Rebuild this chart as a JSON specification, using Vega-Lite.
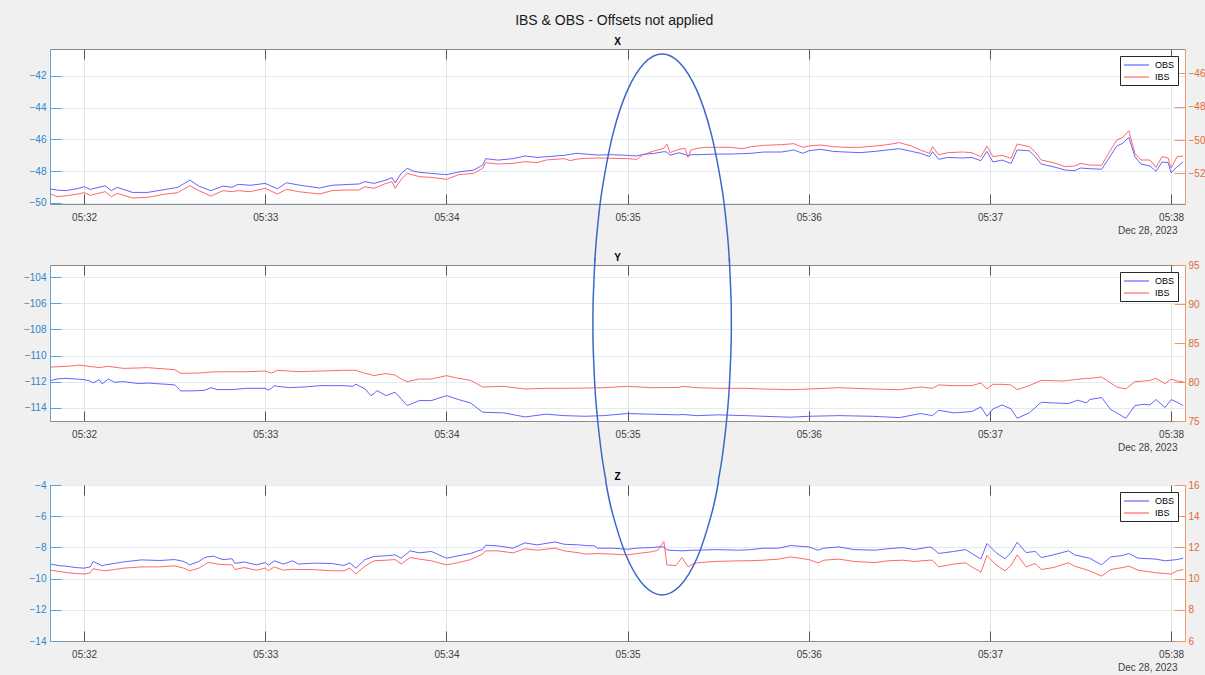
{
  "$schema": "https://vega.github.io/schema/vega-lite/v6.json",
  "background": "#f0f0f0",
  "padding": {"left": 22, "top": 14, "right": 0, "bottom": 5},
  "title": {"text": "IBS & OBS - Offsets not applied", "fontSize": 14, "fontWeight": "normal", "color": "#1a1a1a", "anchor": "middle", "offset": 8},
  "config": {
    "font": "Liberation Sans",
    "view": {"stroke": "#8c8c8c", "fill": "white"},
    "axis": {"labelFontSize": 10, "titleFontSize": 10, "titleFontWeight": "normal"},
    "legend": {"orient": "top-right", "offset": 7, "fillColor": "white", "strokeColor": "#262626", "padding": 3, "symbolType": "M-1,0H4", "symbolSize": 100, "symbolStrokeWidth": 1.2, "labelFontSize": 9, "labelColor": "#000000", "labelOffset": 20, "rowPadding": 1, "cornerRadius": 0},
    "title": {"fontSize": 10, "fontWeight": "bold", "color": "#000000"}
  },
  "spacing": -30,
  "resolve": {"legend": {"color": "independent"}},
  "vconcat": [
    {
      "title": {"text": "X", "offset": 2},
      "width": 1135,
      "height": 155,
      "data": {"format": {"parse": {"t": "date:'%H:%M:%S'"}}, "values": [
        {"t":"05:31:49","OBS":-49.14,"IBS":-53.24},{"t":"05:31:51","OBS":-49.2,"IBS":-53.4},{"t":"05:31:54","OBS":-49.24,"IBS":-53.35},{"t":"05:31:58","OBS":-49.1,"IBS":-53.24},
        {"t":"05:32:00","OBS":-48.99,"IBS":-53.16},{"t":"05:32:02","OBS":-49.16,"IBS":-53.32},{"t":"05:32:07","OBS":-48.93,"IBS":-53.1},{"t":"05:32:09","OBS":-49.24,"IBS":-53.4},
        {"t":"05:32:11","OBS":-49.03,"IBS":-53.2},{"t":"05:32:16","OBS":-49.35,"IBS":-53.48},{"t":"05:32:21","OBS":-49.35,"IBS":-53.44},{"t":"05:32:27","OBS":-49.16,"IBS":-53.24},
        {"t":"05:32:31","OBS":-49.03,"IBS":-53.16},{"t":"05:32:33","OBS":-48.8,"IBS":-52.95},{"t":"05:32:35","OBS":-48.57,"IBS":-52.74},{"t":"05:32:38","OBS":-48.95,"IBS":-53.04},
        {"t":"05:32:42","OBS":-49.24,"IBS":-53.36},{"t":"05:32:46","OBS":-48.95,"IBS":-53.04},{"t":"05:32:49","OBS":-49.03,"IBS":-53.1},{"t":"05:32:51","OBS":-48.84,"IBS":-53.04},
        {"t":"05:32:55","OBS":-48.9,"IBS":-53.1},{"t":"05:33:00","OBS":-48.78,"IBS":-52.9},{"t":"05:33:04","OBS":-49.12,"IBS":-53.24},{"t":"05:33:07","OBS":-48.74,"IBS":-52.96},
        {"t":"05:33:11","OBS":-48.88,"IBS":-53.1},{"t":"05:33:18","OBS":-49.07,"IBS":-53.24},{"t":"05:33:22","OBS":-48.9,"IBS":-53.04},{"t":"05:33:26","OBS":-48.86,"IBS":-53.0},
        {"t":"05:33:31","OBS":-48.82,"IBS":-53.0},{"t":"05:33:33","OBS":-48.67,"IBS":-52.8},{"t":"05:33:36","OBS":-48.78,"IBS":-52.9},{"t":"05:33:40","OBS":-48.57,"IBS":-52.6},
        {"t":"05:33:42","OBS":-48.42,"IBS":-52.5},{"t":"05:33:43","OBS":-48.74,"IBS":-52.9},{"t":"05:33:45","OBS":-48.15,"IBS":-52.36},{"t":"05:33:47","OBS":-47.83,"IBS":-52.0},
        {"t":"05:33:49","OBS":-48.0,"IBS":-52.1},{"t":"05:33:51","OBS":-48.08,"IBS":-52.2},{"t":"05:33:55","OBS":-48.15,"IBS":-52.24},{"t":"05:34:00","OBS":-48.23,"IBS":-52.36},
        {"t":"05:34:04","OBS":-48.06,"IBS":-52.08},{"t":"05:34:09","OBS":-47.94,"IBS":-52.0},{"t":"05:34:12","OBS":-47.62,"IBS":-51.7},{"t":"05:34:13","OBS":-47.22,"IBS":-51.36},
        {"t":"05:34:17","OBS":-47.31,"IBS":-51.44},{"t":"05:34:22","OBS":-47.22,"IBS":-51.4},{"t":"05:34:26","OBS":-47.05,"IBS":-51.3},{"t":"05:34:30","OBS":-47.14,"IBS":-51.36},
        {"t":"05:34:33","OBS":-47.1,"IBS":-51.2},{"t":"05:34:36","OBS":-47.05,"IBS":-51.16},{"t":"05:34:39","OBS":-47.01,"IBS":-51.12},{"t":"05:34:41","OBS":-46.95,"IBS":-51.24},
        {"t":"05:34:43","OBS":-46.88,"IBS":-51.15},{"t":"05:34:46","OBS":-46.93,"IBS":-51.1},{"t":"05:34:50","OBS":-46.99,"IBS":-51.08},{"t":"05:34:55","OBS":-46.97,"IBS":-51.1},
        {"t":"05:35:00","OBS":-47.01,"IBS":-51.12},{"t":"05:35:03","OBS":-47.05,"IBS":-51.16},{"t":"05:35:05","OBS":-46.95,"IBS":-50.9},{"t":"05:35:09","OBS":-46.88,"IBS":-50.64},
        {"t":"05:35:12","OBS":-46.78,"IBS":-50.5},{"t":"05:35:13","OBS":-46.8,"IBS":-50.24},{"t":"05:35:14","OBS":-47.0,"IBS":-50.76},{"t":"05:35:17","OBS":-46.85,"IBS":-50.56},
        {"t":"05:35:19","OBS":-46.95,"IBS":-50.5},{"t":"05:35:20","OBS":-47.05,"IBS":-51.04},{"t":"05:35:21","OBS":-46.97,"IBS":-50.6},{"t":"05:35:23","OBS":-46.97,"IBS":-50.5},
        {"t":"05:35:26","OBS":-46.95,"IBS":-50.44},{"t":"05:35:29","OBS":-46.93,"IBS":-50.44},{"t":"05:35:34","OBS":-46.93,"IBS":-50.44},{"t":"05:35:38","OBS":-46.9,"IBS":-50.52},
        {"t":"05:35:41","OBS":-46.88,"IBS":-50.4},{"t":"05:35:45","OBS":-46.8,"IBS":-50.32},{"t":"05:35:51","OBS":-46.8,"IBS":-50.28},{"t":"05:35:55","OBS":-46.67,"IBS":-50.22},
        {"t":"05:35:58","OBS":-46.88,"IBS":-50.44},{"t":"05:36:00","OBS":-46.72,"IBS":-50.36},{"t":"05:36:04","OBS":-46.63,"IBS":-50.3},{"t":"05:36:08","OBS":-46.76,"IBS":-50.4},
        {"t":"05:36:12","OBS":-46.8,"IBS":-50.44},{"t":"05:36:17","OBS":-46.84,"IBS":-50.44},{"t":"05:36:22","OBS":-46.76,"IBS":-50.36},{"t":"05:36:26","OBS":-46.67,"IBS":-50.28},
        {"t":"05:36:30","OBS":-46.59,"IBS":-50.16},{"t":"05:36:34","OBS":-46.76,"IBS":-50.36},{"t":"05:36:37","OBS":-46.88,"IBS":-50.6},{"t":"05:36:40","OBS":-47.09,"IBS":-50.8},
        {"t":"05:36:41","OBS":-46.78,"IBS":-50.4},{"t":"05:36:43","OBS":-47.26,"IBS":-50.88},{"t":"05:36:46","OBS":-47.14,"IBS":-50.76},{"t":"05:36:51","OBS":-47.18,"IBS":-50.72},
        {"t":"05:36:54","OBS":-47.14,"IBS":-50.76},{"t":"05:36:57","OBS":-47.35,"IBS":-51.0},{"t":"05:36:59","OBS":-46.76,"IBS":-50.36},{"t":"05:37:01","OBS":-47.43,"IBS":-51.0},
        {"t":"05:37:04","OBS":-47.31,"IBS":-50.92},{"t":"05:37:07","OBS":-47.52,"IBS":-51.1},{"t":"05:37:09","OBS":-46.67,"IBS":-50.24},{"t":"05:37:13","OBS":-46.72,"IBS":-50.4},
        {"t":"05:37:15","OBS":-47.09,"IBS":-50.72},{"t":"05:37:17","OBS":-47.56,"IBS":-51.2},{"t":"05:37:21","OBS":-47.73,"IBS":-51.36},{"t":"05:37:25","OBS":-47.94,"IBS":-51.6},
        {"t":"05:37:28","OBS":-47.98,"IBS":-51.56},{"t":"05:37:30","OBS":-47.81,"IBS":-51.4},{"t":"05:37:33","OBS":-47.85,"IBS":-51.5},{"t":"05:37:37","OBS":-47.89,"IBS":-51.52},
        {"t":"05:37:39","OBS":-47.31,"IBS":-50.88},{"t":"05:37:42","OBS":-46.42,"IBS":-50.0},{"t":"05:37:44","OBS":-46.25,"IBS":-49.84},{"t":"05:37:46","OBS":-45.87,"IBS":-49.44},
        {"t":"05:37:48","OBS":-47.09,"IBS":-50.8},{"t":"05:37:50","OBS":-47.56,"IBS":-51.2},{"t":"05:37:53","OBS":-47.68,"IBS":-51.2},{"t":"05:37:55","OBS":-48.02,"IBS":-51.64},
        {"t":"05:37:57","OBS":-47.43,"IBS":-51.0},{"t":"05:37:59","OBS":-47.47,"IBS":-51.08},{"t":"05:38:00","OBS":-48.11,"IBS":-51.68},{"t":"05:38:02","OBS":-47.73,"IBS":-51.0},
        {"t":"05:38:04","OBS":-47.41,"IBS":-50.96}
      ]},
      "layer": [
        {"mark": {"type": "line", "strokeWidth": 1, "opacity": 0.85},
         "encoding": {
           "x": {"field": "t", "type": "temporal", "scale": {"domain": [{"year":1900,"month":1,"date":1,"hours":5,"minutes":31,"seconds":48,"milliseconds":700},{"year":1900,"month":1,"date":1,"hours":5,"minutes":38,"seconds":4,"milliseconds":600}]},
                 "axis": {"format": "%H:%M", "values": [{"year":1900,"month":1,"date":1,"hours":5,"minutes":32},{"year":1900,"month":1,"date":1,"hours":5,"minutes":33},{"year":1900,"month":1,"date":1,"hours":5,"minutes":34},{"year":1900,"month":1,"date":1,"hours":5,"minutes":35},{"year":1900,"month":1,"date":1,"hours":5,"minutes":36},{"year":1900,"month":1,"date":1,"hours":5,"minutes":37},{"year":1900,"month":1,"date":1,"hours":5,"minutes":38}], "grid": true, "gridColor": "#e4e4e4", "tickSize": -10, "tickColor": "#555555", "labelPadding": 18, "labelColor": "#404040", "domainColor": "#8c8c8c", "title": "Dec 28, 2023", "titleColor": "#404040", "titleX": 1127, "titleAlign": "right", "titlePadding": 3}},
           "y": {"field": "OBS", "type": "quantitative", "scale": {"domain": [-50.08, -40.3], "nice": false, "zero": false},
                 "axis": {"values": [-50, -48, -46, -44, -42], "grid": true, "gridColor": "#e2ebf5", "tickSize": -11, "tickColor": "#5aa3db", "domainColor": "#5aa3db", "labelColor": "#2f85c8", "labelPadding": 15, "title": null}},
           "color": {"datum": "OBS", "scale": {"domain": ["OBS", "IBS"], "range": ["#4848ff", "#ff4d4d"]}, "legend": {"title": null}}
         }},
        {"mark": {"type": "line", "strokeWidth": 1, "opacity": 0.85},
         "encoding": {
           "x": {"field": "t", "type": "temporal", "axis": {"orient": "top", "labels": false, "grid": false, "domain": false, "tickSize": -10, "tickColor": "#555555", "title": null, "values": [{"year":1900,"month":1,"date":1,"hours":5,"minutes":32},{"year":1900,"month":1,"date":1,"hours":5,"minutes":33},{"year":1900,"month":1,"date":1,"hours":5,"minutes":34},{"year":1900,"month":1,"date":1,"hours":5,"minutes":35},{"year":1900,"month":1,"date":1,"hours":5,"minutes":36},{"year":1900,"month":1,"date":1,"hours":5,"minutes":37},{"year":1900,"month":1,"date":1,"hours":5,"minutes":38}]}},
           "y": {"field": "IBS", "type": "quantitative", "scale": {"domain": [-53.84, -44.54], "nice": false, "zero": false},
                 "axis": {"orient": "right", "values": [-52, -50, -48, -46], "grid": false, "tickSize": -11, "tickColor": "#ea9a70", "domainColor": "#ea9a70", "labelColor": "#e06a35", "labelPadding": 14, "title": null}},
           "color": {"datum": "IBS"}
         }},
        {"data": {"format": {"parse": {"t": "date:'%H:%M:%S.%L'"}}, "values": [
          {"k":0,"t":"05:35:33.710","v":-53.677},{"k":1,"t":"05:35:32.970","v":-51.825},{"k":2,"t":"05:35:31.280","v":-49.134},{"k":3,"t":"05:35:27.630","v":-45.605},
          {"k":4,"t":"05:35:22.890","v":-42.898},{"k":5,"t":"05:35:17.360","v":-41.196},{"k":6,"t":"05:35:11.430","v":-40.615},{"k":7,"t":"05:35:05.500","v":-41.196},
          {"k":8,"t":"05:34:59.970","v":-42.898},{"k":9,"t":"05:34:55.220","v":-45.605},{"k":10,"t":"05:34:51.580","v":-49.134},{"k":11,"t":"05:34:49.890","v":-51.825},
          {"k":12,"t":"05:34:49.140","v":-53.677}
         ]},
         "mark": {"type": "line", "color": "#3a68c8", "strokeWidth": 1.5, "interpolate": "cardinal", "clip": false},
         "encoding": {
           "x": {"field": "t", "type": "temporal", "axis": null},
           "y": {"field": "v", "type": "quantitative", "scale": {"domain": [-50.08, -40.3], "nice": false, "zero": false}, "axis": null},
           "order": {"field": "k", "type": "quantitative"}
         }}
      ],
      "resolve": {"scale": {"y": "independent"}, "axis": {"x": "independent"}}
    },
    {
      "title": {"text": "Y", "offset": -8},
      "width": 1135,
      "height": 156,
      "data": {"format": {"parse": {"t": "date:'%H:%M:%S'"}}, "values": [
        {"t":"05:31:49","OBS":-111.91,"IBS":81.92},{"t":"05:31:51","OBS":-111.79,"IBS":81.95},{"t":"05:31:54","OBS":-111.74,"IBS":82.01},{"t":"05:31:57","OBS":-111.79,"IBS":82.1},
        {"t":"05:31:58","OBS":-111.8,"IBS":82.18},{"t":"05:32:00","OBS":-111.84,"IBS":82.1},{"t":"05:32:02","OBS":-111.95,"IBS":81.97},{"t":"05:32:03","OBS":-112.09,"IBS":81.95},
        {"t":"05:32:05","OBS":-111.84,"IBS":81.84},{"t":"05:32:06","OBS":-112.17,"IBS":81.9},{"t":"05:32:08","OBS":-111.79,"IBS":82.01},{"t":"05:32:10","OBS":-112.04,"IBS":81.9},
        {"t":"05:32:13","OBS":-111.99,"IBS":81.75},{"t":"05:32:18","OBS":-112.14,"IBS":81.8},{"t":"05:32:21","OBS":-112.1,"IBS":81.84},{"t":"05:32:27","OBS":-112.19,"IBS":81.67},
        {"t":"05:32:30","OBS":-112.24,"IBS":81.58},{"t":"05:32:32","OBS":-112.7,"IBS":81.11},{"t":"05:32:35","OBS":-112.7,"IBS":81.13},{"t":"05:32:38","OBS":-112.68,"IBS":81.15},
        {"t":"05:32:40","OBS":-112.65,"IBS":81.2},{"t":"05:32:42","OBS":-112.45,"IBS":81.28},{"t":"05:32:44","OBS":-112.6,"IBS":81.3},{"t":"05:32:49","OBS":-112.6,"IBS":81.32},
        {"t":"05:32:54","OBS":-112.5,"IBS":81.32},{"t":"05:33:00","OBS":-112.5,"IBS":81.41},{"t":"05:33:01","OBS":-112.65,"IBS":81.25},{"t":"05:33:02","OBS":-112.5,"IBS":81.15},
        {"t":"05:33:03","OBS":-112.3,"IBS":81.3},{"t":"05:33:04","OBS":-112.35,"IBS":81.5},{"t":"05:33:08","OBS":-112.45,"IBS":81.4},{"t":"05:33:11","OBS":-112.42,"IBS":81.32},
        {"t":"05:33:13","OBS":-112.4,"IBS":81.35},{"t":"05:33:18","OBS":-112.3,"IBS":81.41},{"t":"05:33:22","OBS":-112.3,"IBS":81.45},{"t":"05:33:26","OBS":-112.3,"IBS":81.5},
        {"t":"05:33:29","OBS":-112.35,"IBS":81.5},{"t":"05:33:30","OBS":-112.19,"IBS":81.5},{"t":"05:33:33","OBS":-112.55,"IBS":81.11},{"t":"05:33:35","OBS":-113.06,"IBS":80.95},
        {"t":"05:33:36","OBS":-112.9,"IBS":80.81},{"t":"05:33:37","OBS":-112.68,"IBS":80.9},{"t":"05:33:40","OBS":-113.06,"IBS":81.07},{"t":"05:33:43","OBS":-112.8,"IBS":80.9},
        {"t":"05:33:45","OBS":-113.31,"IBS":80.38},{"t":"05:33:47","OBS":-113.82,"IBS":80.04},{"t":"05:33:51","OBS":-113.44,"IBS":80.38},{"t":"05:33:55","OBS":-113.44,"IBS":80.38},
        {"t":"05:34:00","OBS":-113.06,"IBS":80.81},{"t":"05:34:04","OBS":-113.36,"IBS":80.47},{"t":"05:34:08","OBS":-113.62,"IBS":80.21},{"t":"05:34:12","OBS":-114.33,"IBS":79.36},
        {"t":"05:34:19","OBS":-114.38,"IBS":79.44},{"t":"05:34:26","OBS":-114.69,"IBS":79.1},{"t":"05:34:33","OBS":-114.48,"IBS":79.19},{"t":"05:34:39","OBS":-114.59,"IBS":79.19},
        {"t":"05:34:46","OBS":-114.64,"IBS":79.22},{"t":"05:34:52","OBS":-114.59,"IBS":79.27},{"t":"05:35:00","OBS":-114.43,"IBS":79.44},{"t":"05:35:08","OBS":-114.48,"IBS":79.27},
        {"t":"05:35:17","OBS":-114.53,"IBS":79.3},{"t":"05:35:18","OBS":-114.5,"IBS":79.44},{"t":"05:35:23","OBS":-114.59,"IBS":79.27},{"t":"05:35:30","OBS":-114.53,"IBS":79.19},
        {"t":"05:35:39","OBS":-114.59,"IBS":79.19},{"t":"05:35:45","OBS":-114.64,"IBS":79.1},{"t":"05:35:54","OBS":-114.71,"IBS":79.02},{"t":"05:36:00","OBS":-114.64,"IBS":79.1},
        {"t":"05:36:10","OBS":-114.59,"IBS":79.27},{"t":"05:36:21","OBS":-114.64,"IBS":79.1},{"t":"05:36:30","OBS":-114.74,"IBS":79.02},{"t":"05:36:37","OBS":-114.43,"IBS":79.36},
        {"t":"05:36:41","OBS":-114.59,"IBS":79.19},{"t":"05:36:43","OBS":-114.18,"IBS":79.62},{"t":"05:36:48","OBS":-114.38,"IBS":79.53},{"t":"05:36:54","OBS":-114.28,"IBS":79.53},
        {"t":"05:36:57","OBS":-113.92,"IBS":79.87},{"t":"05:36:59","OBS":-114.64,"IBS":79.1},{"t":"05:37:01","OBS":-114.08,"IBS":79.7},{"t":"05:37:04","OBS":-113.77,"IBS":79.7},
        {"t":"05:37:07","OBS":-114.08,"IBS":79.62},{"t":"05:37:09","OBS":-114.79,"IBS":79.02},{"t":"05:37:13","OBS":-114.38,"IBS":79.53},{"t":"05:37:17","OBS":-113.57,"IBS":80.21},
        {"t":"05:37:21","OBS":-113.62,"IBS":80.17},{"t":"05:37:24","OBS":-113.65,"IBS":80.13},{"t":"05:37:26","OBS":-113.67,"IBS":80.2},{"t":"05:37:28","OBS":-113.5,"IBS":80.3},
        {"t":"05:37:29","OBS":-113.41,"IBS":80.35},{"t":"05:37:32","OBS":-113.62,"IBS":80.47},{"t":"05:37:33","OBS":-113.36,"IBS":80.47},{"t":"05:37:37","OBS":-113.21,"IBS":80.64},
        {"t":"05:37:40","OBS":-114.13,"IBS":79.87},{"t":"05:37:42","OBS":-114.38,"IBS":79.36},{"t":"05:37:45","OBS":-114.79,"IBS":79.1},{"t":"05:37:48","OBS":-113.82,"IBS":80.04},
        {"t":"05:37:51","OBS":-113.72,"IBS":80.13},{"t":"05:37:53","OBS":-113.77,"IBS":80.2},{"t":"05:37:55","OBS":-113.36,"IBS":80.47},{"t":"05:37:58","OBS":-113.97,"IBS":79.79},
        {"t":"05:38:00","OBS":-113.36,"IBS":80.38},{"t":"05:38:02","OBS":-113.57,"IBS":80.13},{"t":"05:38:04","OBS":-113.82,"IBS":80.04}
      ]},
      "layer": [
        {"mark": {"type": "line", "strokeWidth": 1, "opacity": 0.85},
         "encoding": {
           "x": {"field": "t", "type": "temporal", "scale": {"domain": [{"year":1900,"month":1,"date":1,"hours":5,"minutes":31,"seconds":48,"milliseconds":700},{"year":1900,"month":1,"date":1,"hours":5,"minutes":38,"seconds":4,"milliseconds":600}]},
                 "axis": {"format": "%H:%M", "values": [{"year":1900,"month":1,"date":1,"hours":5,"minutes":32},{"year":1900,"month":1,"date":1,"hours":5,"minutes":33},{"year":1900,"month":1,"date":1,"hours":5,"minutes":34},{"year":1900,"month":1,"date":1,"hours":5,"minutes":35},{"year":1900,"month":1,"date":1,"hours":5,"minutes":36},{"year":1900,"month":1,"date":1,"hours":5,"minutes":37},{"year":1900,"month":1,"date":1,"hours":5,"minutes":38}], "grid": true, "gridColor": "#e4e4e4", "tickSize": -10, "tickColor": "#555555", "labelPadding": 18, "labelColor": "#404040", "domainColor": "#8c8c8c", "title": "Dec 28, 2023", "titleColor": "#404040", "titleX": 1127, "titleAlign": "right", "titlePadding": 3}},
           "y": {"field": "OBS", "type": "quantitative", "scale": {"domain": [-115, -103.08], "nice": false, "zero": false},
                 "axis": {"values": [-114, -112, -110, -108, -106, -104], "grid": true, "gridColor": "#e2ebf5", "tickSize": -11, "tickColor": "#5aa3db", "domainColor": "#5aa3db", "labelColor": "#2f85c8", "labelPadding": 15, "title": null}},
           "color": {"datum": "OBS", "scale": {"domain": ["OBS", "IBS"], "range": ["#4848ff", "#ff4d4d"]}, "legend": {"title": null}}
         }},
        {"mark": {"type": "line", "strokeWidth": 1, "opacity": 0.85},
         "encoding": {
           "x": {"field": "t", "type": "temporal", "axis": {"orient": "top", "labels": false, "grid": false, "domain": false, "tickSize": -10, "tickColor": "#555555", "title": null, "values": [{"year":1900,"month":1,"date":1,"hours":5,"minutes":32},{"year":1900,"month":1,"date":1,"hours":5,"minutes":33},{"year":1900,"month":1,"date":1,"hours":5,"minutes":34},{"year":1900,"month":1,"date":1,"hours":5,"minutes":35},{"year":1900,"month":1,"date":1,"hours":5,"minutes":36},{"year":1900,"month":1,"date":1,"hours":5,"minutes":37},{"year":1900,"month":1,"date":1,"hours":5,"minutes":38}]}},
           "y": {"field": "IBS", "type": "quantitative", "scale": {"domain": [75, 95], "nice": false, "zero": false},
                 "axis": {"orient": "right", "values": [75, 80, 85, 90, 95], "grid": false, "tickSize": -11, "tickColor": "#ea9a70", "domainColor": "#ea9a70", "labelColor": "#e06a35", "labelPadding": 14, "title": null}},
           "color": {"datum": "IBS"}
         }},
        {"data": {"format": {"parse": {"t": "date:'%H:%M:%S.%L'"}}, "values": [
          {"s":"L","k":0,"t":"05:34:49.190","v":-102.545},{"s":"L","k":1,"t":"05:34:48.600","v":-105.678},{"s":"L","k":2,"t":"05:34:48.510","v":-107.512},{"s":"L","k":3,"t":"05:34:48.610","v":-109.498},
          {"s":"L","k":4,"t":"05:34:49.440","v":-113.319},{"s":"L","k":5,"t":"05:34:51.160","v":-117.139},{"s":"L","k":6,"t":"05:34:52.840","v":-119.585},
          {"s":"R","k":0,"t":"05:35:33.670","v":-102.545},{"s":"R","k":1,"t":"05:35:34.260","v":-105.678},{"s":"R","k":2,"t":"05:35:34.350","v":-107.512},{"s":"R","k":3,"t":"05:35:34.240","v":-109.498},
          {"s":"R","k":4,"t":"05:35:33.420","v":-113.319},{"s":"R","k":5,"t":"05:35:31.700","v":-117.139},{"s":"R","k":6,"t":"05:35:30.010","v":-119.585}
         ]},
         "mark": {"type": "line", "color": "#3a68c8", "strokeWidth": 1.5, "interpolate": "cardinal", "clip": false},
         "encoding": {
           "x": {"field": "t", "type": "temporal", "axis": null},
           "y": {"field": "v", "type": "quantitative", "scale": {"domain": [-115, -103.08], "nice": false, "zero": false}, "axis": null},
           "detail": {"field": "s", "type": "nominal"},
           "order": {"field": "k", "type": "quantitative"}
         }}
      ],
      "resolve": {"scale": {"y": "independent"}, "axis": {"x": "independent"}}
    },
    {
      "title": {"text": "Z", "offset": -4},
      "width": 1135,
      "height": 156,
      "data": {"format": {"parse": {"t": "date:'%H:%M:%S'"}}, "values": [
        {"t":"05:31:49","OBS":-9.07,"IBS":10.54},{"t":"05:31:52","OBS":-9.18,"IBS":10.45},{"t":"05:31:54","OBS":-9.2,"IBS":10.39},{"t":"05:31:57","OBS":-9.29,"IBS":10.33},
        {"t":"05:32:00","OBS":-9.33,"IBS":10.29},{"t":"05:32:02","OBS":-9.25,"IBS":10.37},{"t":"05:32:03","OBS":-8.9,"IBS":10.63},{"t":"05:32:06","OBS":-9.18,"IBS":10.52},
        {"t":"05:32:07","OBS":-9.12,"IBS":10.5},{"t":"05:32:10","OBS":-9.03,"IBS":10.58},{"t":"05:32:13","OBS":-8.93,"IBS":10.67},{"t":"05:32:19","OBS":-8.8,"IBS":10.75},
        {"t":"05:32:25","OBS":-8.84,"IBS":10.75},{"t":"05:32:30","OBS":-8.78,"IBS":10.82},{"t":"05:32:33","OBS":-8.9,"IBS":10.67},{"t":"05:32:35","OBS":-9.12,"IBS":10.5},
        {"t":"05:32:38","OBS":-8.9,"IBS":10.67},{"t":"05:32:40","OBS":-8.65,"IBS":10.9},{"t":"05:32:41","OBS":-8.6,"IBS":11.03},{"t":"05:32:43","OBS":-8.56,"IBS":10.98},
        {"t":"05:32:44","OBS":-8.65,"IBS":10.93},{"t":"05:32:46","OBS":-8.78,"IBS":10.9},{"t":"05:32:49","OBS":-8.73,"IBS":10.88},{"t":"05:32:50","OBS":-9.03,"IBS":10.58},
        {"t":"05:32:53","OBS":-8.93,"IBS":10.71},{"t":"05:32:57","OBS":-9.12,"IBS":10.54},{"t":"05:33:00","OBS":-8.97,"IBS":10.67},{"t":"05:33:01","OBS":-9.14,"IBS":10.5},
        {"t":"05:33:03","OBS":-8.86,"IBS":10.75},{"t":"05:33:06","OBS":-9.07,"IBS":10.54},{"t":"05:33:09","OBS":-8.86,"IBS":10.6},{"t":"05:33:11","OBS":-9.07,"IBS":10.58},
        {"t":"05:33:16","OBS":-9.01,"IBS":10.58},{"t":"05:33:22","OBS":-9.03,"IBS":10.5},{"t":"05:33:26","OBS":-9.16,"IBS":10.5},{"t":"05:33:28","OBS":-8.99,"IBS":10.67},
        {"t":"05:33:30","OBS":-9.33,"IBS":10.29},{"t":"05:33:33","OBS":-8.78,"IBS":10.8},{"t":"05:33:36","OBS":-8.58,"IBS":11.14},{"t":"05:33:40","OBS":-8.54,"IBS":11.18},
        {"t":"05:33:43","OBS":-8.48,"IBS":11.22},{"t":"05:33:45","OBS":-8.69,"IBS":10.93},{"t":"05:33:48","OBS":-8.22,"IBS":11.35},{"t":"05:33:51","OBS":-8.35,"IBS":11.25},
        {"t":"05:33:55","OBS":-8.26,"IBS":11.14},{"t":"05:34:00","OBS":-8.69,"IBS":10.88},{"t":"05:34:04","OBS":-8.54,"IBS":11.03},{"t":"05:34:08","OBS":-8.39,"IBS":11.22},
        {"t":"05:34:12","OBS":-8.12,"IBS":11.57},{"t":"05:34:13","OBS":-7.86,"IBS":11.78},{"t":"05:34:17","OBS":-7.9,"IBS":11.78},{"t":"05:34:22","OBS":-8.05,"IBS":11.65},
        {"t":"05:34:26","OBS":-7.71,"IBS":11.91},{"t":"05:34:30","OBS":-7.84,"IBS":11.82},{"t":"05:34:36","OBS":-7.65,"IBS":11.95},{"t":"05:34:39","OBS":-7.8,"IBS":11.78},
        {"t":"05:34:44","OBS":-7.84,"IBS":11.65},{"t":"05:34:46","OBS":-7.88,"IBS":11.57},{"t":"05:34:49","OBS":-7.9,"IBS":11.6},{"t":"05:34:50","OBS":-8.05,"IBS":11.61},
        {"t":"05:34:55","OBS":-8.05,"IBS":11.57},{"t":"05:35:00","OBS":-8.12,"IBS":11.52},{"t":"05:35:03","OBS":-8.05,"IBS":11.6},{"t":"05:35:05","OBS":-8.03,"IBS":11.65},
        {"t":"05:35:08","OBS":-8.01,"IBS":11.72},{"t":"05:35:10","OBS":-7.97,"IBS":11.82},{"t":"05:35:12","OBS":-7.97,"IBS":12.38},{"t":"05:35:13","OBS":-8.15,"IBS":10.88},
        {"t":"05:35:14","OBS":-8.18,"IBS":10.86},{"t":"05:35:16","OBS":-8.2,"IBS":10.84},{"t":"05:35:18","OBS":-8.22,"IBS":11.35},{"t":"05:35:20","OBS":-8.2,"IBS":10.75},
        {"t":"05:35:21","OBS":-8.18,"IBS":10.88},{"t":"05:35:23","OBS":-8.18,"IBS":11.01},{"t":"05:35:29","OBS":-8.14,"IBS":11.1},{"t":"05:35:37","OBS":-8.18,"IBS":11.14},
        {"t":"05:35:41","OBS":-8.14,"IBS":11.15},{"t":"05:35:45","OBS":-8.05,"IBS":11.18},{"t":"05:35:50","OBS":-8.05,"IBS":11.25},{"t":"05:35:54","OBS":-7.88,"IBS":11.39},
        {"t":"05:36:00","OBS":-7.97,"IBS":11.22},{"t":"05:36:03","OBS":-8.18,"IBS":11.01},{"t":"05:36:05","OBS":-8.05,"IBS":11.18},{"t":"05:36:10","OBS":-7.97,"IBS":11.25},
        {"t":"05:36:15","OBS":-8.14,"IBS":11.1},{"t":"05:36:22","OBS":-8.18,"IBS":11.03},{"t":"05:36:26","OBS":-8.09,"IBS":11.14},{"t":"05:36:31","OBS":-8.01,"IBS":11.18},
        {"t":"05:36:35","OBS":-8.14,"IBS":11.1},{"t":"05:36:40","OBS":-7.97,"IBS":11.18},{"t":"05:36:41","OBS":-8.05,"IBS":11.18},{"t":"05:36:43","OBS":-8.39,"IBS":10.75},
        {"t":"05:36:48","OBS":-8.26,"IBS":10.93},{"t":"05:36:52","OBS":-8.14,"IBS":11.01},{"t":"05:36:54","OBS":-8.39,"IBS":10.75},{"t":"05:36:57","OBS":-8.75,"IBS":10.41},
        {"t":"05:36:59","OBS":-7.75,"IBS":11.48},{"t":"05:37:02","OBS":-8.33,"IBS":10.88},{"t":"05:37:05","OBS":-8.73,"IBS":10.5},{"t":"05:37:07","OBS":-8.33,"IBS":10.84},
        {"t":"05:37:09","OBS":-7.67,"IBS":11.52},{"t":"05:37:12","OBS":-8.33,"IBS":10.75},{"t":"05:37:15","OBS":-8.26,"IBS":10.97},{"t":"05:37:17","OBS":-8.65,"IBS":10.58},
        {"t":"05:37:21","OBS":-8.48,"IBS":10.71},{"t":"05:37:26","OBS":-8.22,"IBS":11.01},{"t":"05:37:28","OBS":-8.48,"IBS":10.8},{"t":"05:37:33","OBS":-8.69,"IBS":10.5},
        {"t":"05:37:37","OBS":-9.12,"IBS":10.16},{"t":"05:37:40","OBS":-8.61,"IBS":10.58},{"t":"05:37:44","OBS":-8.52,"IBS":10.71},{"t":"05:37:46","OBS":-8.39,"IBS":10.8},
        {"t":"05:37:49","OBS":-8.69,"IBS":10.54},{"t":"05:37:55","OBS":-8.75,"IBS":10.37},{"t":"05:37:58","OBS":-8.86,"IBS":10.33},{"t":"05:38:00","OBS":-8.82,"IBS":10.29},
        {"t":"05:38:02","OBS":-8.78,"IBS":10.5},{"t":"05:38:04","OBS":-8.69,"IBS":10.58}
      ]},
      "layer": [
        {"mark": {"type": "line", "strokeWidth": 1, "opacity": 0.85},
         "encoding": {
           "x": {"field": "t", "type": "temporal", "scale": {"domain": [{"year":1900,"month":1,"date":1,"hours":5,"minutes":31,"seconds":48,"milliseconds":700},{"year":1900,"month":1,"date":1,"hours":5,"minutes":38,"seconds":4,"milliseconds":600}]},
                 "axis": {"format": "%H:%M", "values": [{"year":1900,"month":1,"date":1,"hours":5,"minutes":32},{"year":1900,"month":1,"date":1,"hours":5,"minutes":33},{"year":1900,"month":1,"date":1,"hours":5,"minutes":34},{"year":1900,"month":1,"date":1,"hours":5,"minutes":35},{"year":1900,"month":1,"date":1,"hours":5,"minutes":36},{"year":1900,"month":1,"date":1,"hours":5,"minutes":37},{"year":1900,"month":1,"date":1,"hours":5,"minutes":38}], "grid": true, "gridColor": "#e4e4e4", "tickSize": -10, "tickColor": "#555555", "labelPadding": 18, "labelColor": "#404040", "domainColor": "#8c8c8c", "title": "Dec 28, 2023", "titleColor": "#404040", "titleX": 1127, "titleAlign": "right", "titlePadding": 3}},
           "y": {"field": "OBS", "type": "quantitative", "scale": {"domain": [-14, -4], "nice": false, "zero": false},
                 "axis": {"values": [-14, -12, -10, -8, -6, -4], "grid": true, "gridColor": "#e2ebf5", "tickSize": -11, "tickColor": "#5aa3db", "domainColor": "#5aa3db", "labelColor": "#2f85c8", "labelPadding": 15, "title": null}},
           "color": {"datum": "OBS", "scale": {"domain": ["OBS", "IBS"], "range": ["#4848ff", "#ff4d4d"]}, "legend": {"title": null}}
         }},
        {"mark": {"type": "line", "strokeWidth": 1, "opacity": 0.85},
         "encoding": {
           "x": {"field": "t", "type": "temporal", "axis": {"orient": "top", "labels": false, "grid": false, "domain": false, "tickSize": -10, "tickColor": "#555555", "title": null, "values": [{"year":1900,"month":1,"date":1,"hours":5,"minutes":32},{"year":1900,"month":1,"date":1,"hours":5,"minutes":33},{"year":1900,"month":1,"date":1,"hours":5,"minutes":34},{"year":1900,"month":1,"date":1,"hours":5,"minutes":35},{"year":1900,"month":1,"date":1,"hours":5,"minutes":36},{"year":1900,"month":1,"date":1,"hours":5,"minutes":37},{"year":1900,"month":1,"date":1,"hours":5,"minutes":38}]}},
           "y": {"field": "IBS", "type": "quantitative", "scale": {"domain": [6, 16], "nice": false, "zero": false},
                 "axis": {"orient": "right", "values": [6, 8, 10, 12, 14, 16], "grid": false, "tickSize": -11, "tickColor": "#ea9a70", "domainColor": "#ea9a70", "labelColor": "#e06a35", "labelPadding": 14, "title": null}},
           "color": {"datum": "IBS"}
         }},
        {"data": {"format": {"parse": {"t": "date:'%H:%M:%S.%L'"}}, "values": [
          {"k":0,"t":"05:34:52.720","v":-3.744},{"k":1,"t":"05:34:55.220","v":-5.982},{"k":2,"t":"05:34:59.970","v":-8.732},{"k":3,"t":"05:35:05.500","v":-10.462},
          {"k":4,"t":"05:35:11.430","v":-11.051},{"k":5,"t":"05:35:17.360","v":-10.462},{"k":6,"t":"05:35:22.890","v":-8.732},{"k":7,"t":"05:35:27.630","v":-5.982},
          {"k":8,"t":"05:35:30.130","v":-3.744}
         ]},
         "mark": {"type": "line", "color": "#3a68c8", "strokeWidth": 1.5, "interpolate": "cardinal", "clip": false},
         "encoding": {
           "x": {"field": "t", "type": "temporal", "axis": null},
           "y": {"field": "v", "type": "quantitative", "scale": {"domain": [-14, -4], "nice": false, "zero": false}, "axis": null},
           "order": {"field": "k", "type": "quantitative"}
         }}
      ],
      "resolve": {"scale": {"y": "independent"}, "axis": {"x": "independent"}}
    }
  ]
}
